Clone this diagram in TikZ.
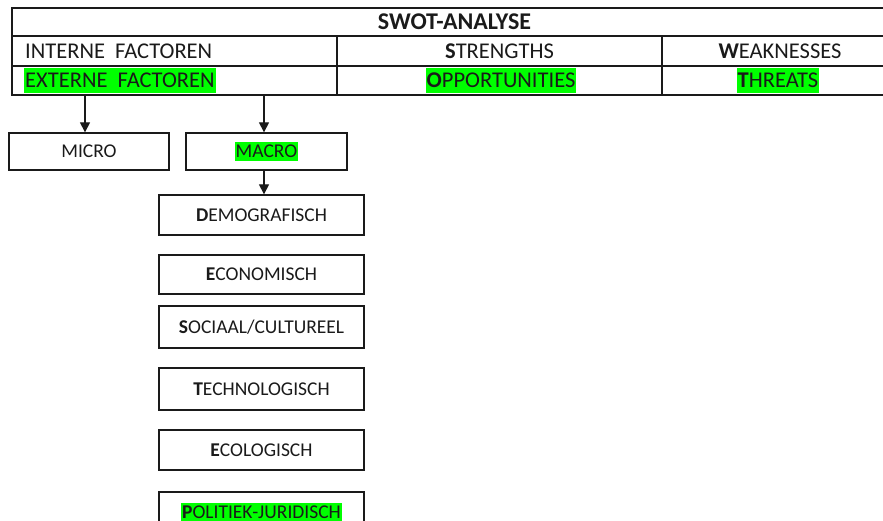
\documentclass[tikz,border=0pt]{standalone}
\usepackage{fontspec}
\setmainfont{Carlito}
\usetikzlibrary{arrows.meta}
\definecolor{hl}{HTML}{00FF00}
\definecolor{ink}{HTML}{1A1A1A}
\begin{document}
\begin{tikzpicture}[x=1pt,y=-1pt,
  cellbox/.style={draw=ink, line width=1.3pt, inner sep=0pt},
  celltext/.style={font=\fontsize{22.5}{26}\selectfont, inner sep=0pt, text=ink},
  hilite/.style={fill=hl, inner xsep=1pt, inner ysep=0pt, minimum height=25pt},
  stepbox/.style={draw=ink, line width=1.3pt, inner sep=0pt, minimum width=205pt,
    font=\fontsize{19.5}{23}\selectfont, text=ink},
  arr/.style={draw=ink, line width=1.2pt, -{Triangle[width=10pt,length=10pt]}}
]
\useasboundingbox (0,0) rectangle (883,521);

% SWOT table
\node[cellbox, minimum width=885pt, minimum height=28pt] (title) at (454.5,22) {};
\node[cellbox, minimum width=325pt, minimum height=30pt] (intc) at (174.5,51) {};
\node[cellbox, minimum width=325pt, minimum height=30pt] (strc) at (499.5,51) {};
\node[cellbox, minimum width=235pt, minimum height=30pt] (weac) at (779.5,51) {};
\node[cellbox, minimum width=325pt, minimum height=29pt] (extc) at (174.5,80.5) {};
\node[cellbox, minimum width=325pt, minimum height=29pt] (oppc) at (499.5,80.5) {};
\node[cellbox, minimum width=235pt, minimum height=29pt] (thrc) at (779.5,80.5) {};

\node[celltext, font=\fontsize{24}{28}\selectfont\bfseries] (titletxt) at (title) {SWOT-ANALYSE};
\node[celltext, anchor=west] (inttxt) at (25,51) {INTERNE\ \ FACTOREN};
\node[celltext] (strtxt) at (499.5,51) {\textbf{S}TRENGTHS};
\node[celltext] (weatxt) at (780,51) {\textbf{W}EAKNESSES};
\node[celltext, hilite, anchor=west] (exttxt) at (24,80.5) {EXTERNE\ \ FACTOREN};
\node[celltext, hilite] (opptxt) at (501,80.5) {\textbf{O}PPORTUNITIES};
\node[celltext, hilite] (thrtxt) at (778,80.5) {\textbf{T}HREATS};

% micro / macro
\node[stepbox, minimum width=160pt, minimum height=37pt] (micro) at (89,151.5) {MICRO};
\node[stepbox, minimum width=161pt, minimum height=37pt] (macro) at (266.5,151.5)
  {\colorbox{hl}{\hspace{-2pt}MACRO\hspace{-2pt}}};

% macro factors
\node[stepbox, minimum height=40pt] (demo) at (261.5,215) {\textbf{D}EMOGRAFISCH};
\node[stepbox, minimum height=39pt] (econ) at (261.5,274.5) {\textbf{E}CONOMISCH};
\node[stepbox, minimum height=42pt] (soc) at (261.5,327) {\textbf{S}OCIAAL/CULTUREEL};
\node[stepbox, minimum height=42pt] (tech) at (261.5,389) {\textbf{T}ECHNOLOGISCH};
\node[stepbox, minimum height=40pt] (eco) at (261.5,450) {\textbf{E}COLOGISCH};
\node[stepbox, minimum height=40pt] (pol) at (261.5,512)
  {\colorbox{hl}{\hspace{-2pt}\textbf{P}OLITIEK-JURIDISCH\hspace{-2pt}}};

% connectors
\draw[arr] ([xshift=-4pt]extc.south -| micro.north) -- ([xshift=-4pt]micro.north);
\draw[arr] ([xshift=-2.5pt]extc.south -| macro.north) -- ([xshift=-2.5pt]macro.north);
\draw[arr] ([xshift=-2.5pt]macro.south) -- ([xshift=-2.5pt]macro.south |- demo.north);
\end{tikzpicture}
\end{document}
